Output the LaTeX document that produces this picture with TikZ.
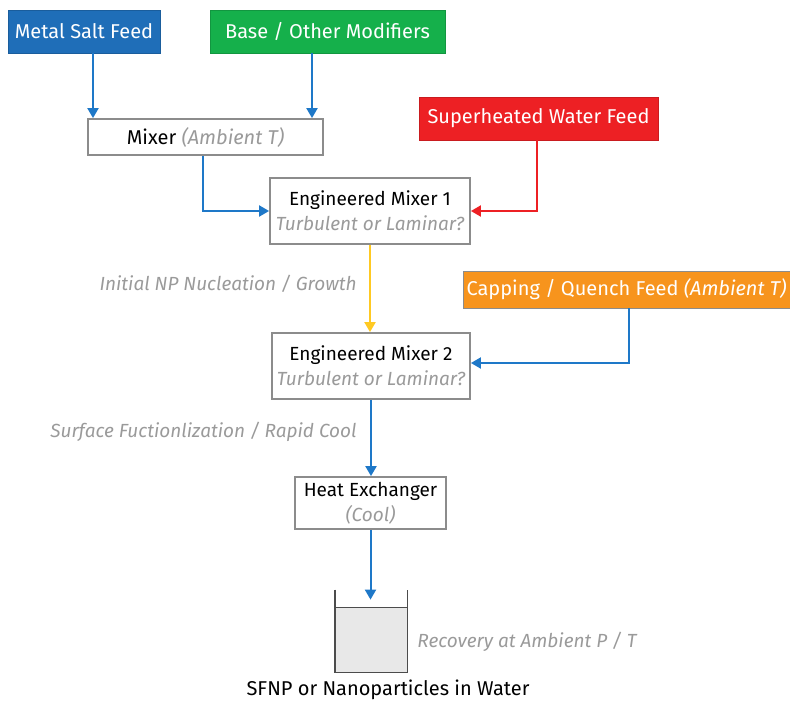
\documentclass[tikz,border=0pt]{standalone}
\usepackage{fontspec}
\setmainfont{Fira Sans}
\usetikzlibrary{arrows.meta}
\usetikzlibrary{positioning}
\definecolor{saltblue}{HTML}{1F6EB8}
\definecolor{basegreen}{HTML}{15B04B}
\definecolor{hotred}{HTML}{ED2024}
\definecolor{caporange}{HTML}{F7941D}
\definecolor{pipeblue}{HTML}{1E78C8}
\definecolor{pipeyellow}{HTML}{FFC922}
\definecolor{notegray}{HTML}{9A9A9A}

\begin{document}
\begin{tikzpicture}[
    x=0.5pt, y=-0.5pt,
    every node/.style={font=\fontsize{9.5}{12.5}\selectfont},
    big/.style={font=\fontsize{10}{12}\selectfont},
    feed/.style={rectangle, big, minimum height=21.5pt, inner sep=0pt, text=white, draw=#1!85!black, fill=#1},
    unit/.style={rectangle, draw=black!45, line width=0.9pt, fill=white, inner sep=0pt, align=center},
    note/.style={text=notegray, inner sep=0pt, font=\fontsize{9.5}{11.5}\selectfont\itshape},
    flow/.style={line width=1pt, draw=#1, -{Triangle[length=5pt,width=5.5pt]}},
    flow/.default=pipeblue,
    wall/.style={line width=0.9pt, draw=black!70}
  ]
  \useasboundingbox (0,0) rectangle (790,701);

  % feeds
  \node[feed=saltblue, minimum width=76pt] (salt) at (84,31.5) {Metal Salt Feed};
  \node[feed=basegreen, minimum width=117.5pt] (base) at (327.5,31.5) {Base / Other Modifiers};
  \node[feed=hotred, minimum width=119.5pt] (hot) at (538.5,118.5) {Superheated Water Feed};
  \node[feed=caporange, draw=black!45, minimum width=163.5pt, minimum height=18.5pt] (cap) at (626.5,289.5)
    {Capping / Quench Feed \textit{(Ambient T)}};

  % process units
  \node[unit, big, minimum width=117.5pt, minimum height=18pt] (mixer) at (205.5,137)
    {Mixer \textcolor{notegray}{\itshape(Ambient T)}};
  \node[unit, minimum width=100pt, minimum height=33pt] (mixa) at (370,211)
    {Engineered Mixer 1\\\textcolor{notegray}{\itshape Turbulent or Laminar?}};
  \node[unit, minimum width=99pt, minimum height=33pt] (mixb) at (371,366)
    {Engineered Mixer 2\\\textcolor{notegray}{\itshape Turbulent or Laminar?}};
  \node[unit, minimum width=75.5pt, minimum height=26pt] (hx) at (370.5,503)
    {Heat Exchanger\\\textcolor{notegray}{\itshape(Cool)}};

  % collection beaker
  \node[rectangle, fill=black!9, minimum width=36pt, minimum height=32pt, inner sep=0pt] (tank) at (371,640) {};
  \draw[wall] ([yshift=9pt]tank.north west) -- (tank.south west) -- (tank.south east) -- ([yshift=9pt]tank.north east);
  \draw[wall, line width=0.7pt] (tank.north west) -- (tank.north east);
  \node[big] (product) at (388,690) {SFNP or Nanoparticles in Water};

  % side notes
  \node[note, anchor=east] (grow) at (357,284) {Initial NP Nucleation / Growth};
  \node[note, anchor=east] (cool) at (357,432) {Surface Fuctionlization / Rapid Cool};
  \node[note, anchor=west] (recover) at (417,642) {Recovery at Ambient P / T};

  % piping
  \draw[flow] ([xshift=4.5pt]salt.south) -- ([xshift=4.5pt]salt.south |- mixer.north);
  \draw[flow] ([xshift=-7.75pt]base.south) -- ([xshift=-7.75pt]base.south |- mixer.north);
  \draw[flow] ([xshift=-1.25pt]mixer.south) |- (mixa.west);
  \draw[flow=hotred] ([xshift=-0.75pt]hot.south) |- (mixa.east);
  \draw[flow=pipeyellow] (mixa.south) -- (mixa.south |- mixb.north);
  \draw[flow] ([xshift=1.25pt]cap.south) |- ([yshift=1.5pt]mixb.east);
  \draw[flow] (mixb.south) -- (mixb.south |- hx.north);
  \draw[flow, shorten >=4pt] (hx.south) -- (hx.south |- tank.north);
\end{tikzpicture}
\end{document}
